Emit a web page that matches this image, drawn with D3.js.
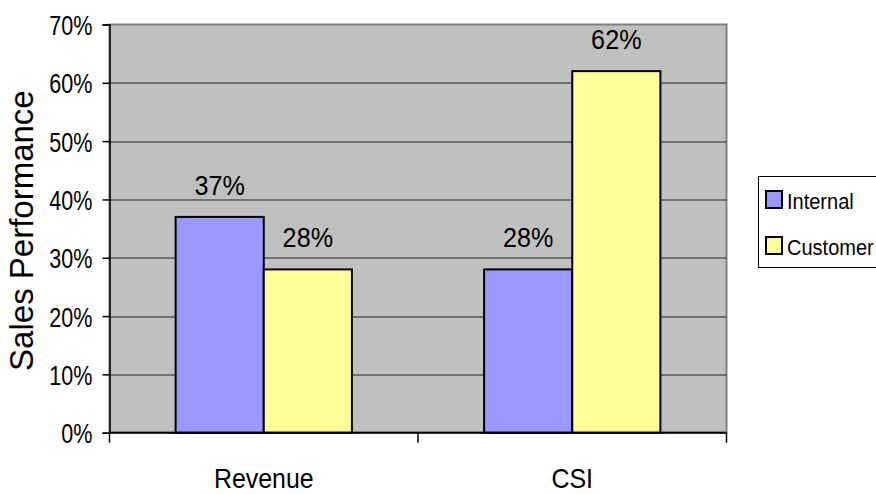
<!DOCTYPE html>
<html>
<head>
<meta charset="utf-8">
<script src="https://cdn.jsdelivr.net/npm/d3@7"></script>
<style>
  body { margin: 0; background: #fff; }
  text { font-family: "Liberation Sans", Arial, sans-serif; fill: #000; }
</style>
</head>
<body>
<script>
// chart data
var categories = ["Revenue", "CSI"];
var series = ["Internal", "Customer"];
var internalValues = [0.37, 0.28];
var customerValues = [0.28, 0.62];
var yTicks = [0, 0.1, 0.2, 0.3, 0.4, 0.5, 0.6, 0.7];
var colors = ["#9999ff", "#ffff99"];

var W = 876, H = 494;
var margin = {left: 109.5, top: 24.5};
var pw = 726.5 - margin.left,
  ph = 432.7 - margin.top;

var svg = d3.select("body").append("svg")
  .attr("width", W)
  .attr("height", H);

// squeeze text sideways, the old excel font is narrow
function narrow(sel, sx) {
  sel.each(function () {
    var t = d3.select(this);
    var x = +t.attr("x") || 0, y = +t.attr("y") || 0;
    t.attr("x", 0).attr("y", 0)
      .attr("transform", "translate(" + x + "," + y + ") scale(" + sx + ",1)");
  });
}

var g = svg.append("g")
  .attr("transform", "translate(" + margin.left + "," + margin.top + ")");

var y = d3.scaleLinear().domain([0, 0.7]).range([ph, 0]);

// gap width 150% like excel
var x0 = d3.scaleBand().domain(categories).range([0, pw])
  .paddingInner(3 / 7).paddingOuter(1.5 / 7);
var x1 = d3.scaleBand().domain(series).range([0, x0.bandwidth()]);

// plot area
g.append("rect")
  .attr("width", pw).attr("height", ph)
  .attr("fill", "#c0c0c0")
  .attr("stroke", "#808080")
  .attr("stroke-width", 2);

// gridlines
g.selectAll(".grid")
  .data(yTicks.filter(function (d) { return d > 0 && d < 0.7; }))
  .enter().append("line")
  .attr("x1", 0).attr("x2", pw)
  .attr("y1", function (d) { return Math.round(y(d)) + 0.5; })
  .attr("y2", function (d) { return Math.round(y(d)) + 0.5; })
  .attr("stroke", "#222")
  .attr("stroke-width", 1);

var rows = categories.map(function (c, i) {
  return {cat: c, vals: [internalValues[i], customerValues[i]]};
});

var groups = g.selectAll(".grp").data(rows).enter().append("g")
  .attr("transform", function (d) { return "translate(" + x0(d.cat) + ",0)"; });

groups.selectAll("rect")
  .data(function (d) { return d.vals.map(function (v, i) { return {s: series[i], v: v, i: i}; }); })
  .enter().append("rect")
  .attr("x", function (d) { return x1(d.s); })
  .attr("y", function (d) { return y(d.v); })
  .attr("width", x1.bandwidth())
  .attr("height", function (d) { return ph - y(d.v); })
  .attr("fill", function (d) { return colors[d.i]; })
  .attr("stroke", "#000")
  .attr("stroke-width", 2);

groups.selectAll(".lbl")
  .data(function (d) { return d.vals.map(function (v, i) { return {s: series[i], v: v}; }); })
  .enter().append("text")
  .attr("x", function (d) { return x1(d.s) + x1.bandwidth() / 2; })
  .attr("y", function (d) { return y(d.v) - 22; })
  .attr("text-anchor", "middle")
  .style("font-size", "28px")
  .text(function (d) { return Math.round(d.v * 100) + "%"; })
  .call(narrow, 0.9);

// y axis
var yAxis = d3.axisLeft(y).tickValues(yTicks).tickFormat(d3.format(".0%"))
  .tickSize(7).tickPadding(10);
var ya = g.append("g").call(yAxis);
ya.select(".domain").attr("stroke", "#000").attr("stroke-width", 1.5);
ya.selectAll(".tick line").attr("stroke", "#000").attr("stroke-width", 1.5);
ya.selectAll(".tick text").style("font-size", "28px").attr("dy", null)
  .attr("y", 10)
  .call(narrow, 0.77);

// x axis
var xa = g.append("g").attr("transform", "translate(0," + ph + ")");
xa.append("line").attr("x1", 0).attr("x2", pw)
  .attr("stroke", "#000").attr("stroke-width", 2);
xa.selectAll(".xt").data([0, pw / 2, pw]).enter().append("line")
  .attr("x1", function (d) { return d; }).attr("x2", function (d) { return d; })
  .attr("y1", 0).attr("y2", 10)
  .attr("stroke", "#000").attr("stroke-width", 1.5);
xa.selectAll(".cat").data(categories).enter().append("text")
  .attr("x", function (d) { return x0(d) + x0.bandwidth() / 2; })
  .attr("y", 55)
  .attr("text-anchor", "middle")
  .style("font-size", "28px")
  .text(function (d) { return d; })
  .call(narrow, 0.89);

// y title
svg.append("text")
  .attr("transform", "translate(33," + (margin.top + ph / 2 + 2) + ") rotate(-90)")
  .attr("text-anchor", "middle")
  .style("font-size", "33px")
  .text("Sales Performance");

// legend
var lg = svg.append("g").attr("transform", "translate(758,176)");
lg.append("rect").attr("x", 0.5).attr("y", 0.5).attr("width", 130).attr("height", 91)
  .attr("fill", "#fff").attr("stroke", "#000").attr("stroke-width", 1);
var li = lg.selectAll(".li").data(series).enter().append("g")
  .attr("transform", function (d, i) { return "translate(0," + (i * 46) + ")"; });
li.append("rect").attr("x", 8).attr("y", 15).attr("width", 16).attr("height", 17)
  .attr("fill", function (d, i) { return colors[i]; })
  .attr("stroke", "#000").attr("stroke-width", 2);
li.append("text").attr("x", 29).attr("y", 33)
  .style("font-size", "22px")
  .text(function (d) { return d; })
  .call(narrow, 0.91);
</script>
</body>
</html>
